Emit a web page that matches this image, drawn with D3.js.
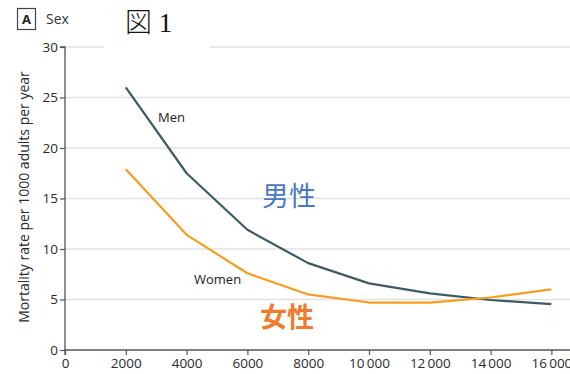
<!DOCTYPE html>
<html>
<head>
<meta charset="utf-8">
<script src="https://cdn.jsdelivr.net/npm/d3@7/dist/d3.min.js"></script>
<style>
  html, body { margin: 0; padding: 0; background: #fff; }
  svg { display: block; }
</style>
</head>
<body>
<svg id="chart" width="570" height="374"></svg>
<script>
// Income (x) and mortality rate per 1000 adults per year
const incomes = [2000, 4000, 6000, 8000, 10000, 12000, 14000, 16000];
const menRates = [26.0, 17.5, 11.9, 8.6, 6.6, 5.6, 4.95, 4.55];
const womenRates = [17.9, 11.4, 7.6, 5.5, 4.7, 4.7, 5.2, 6.0];
const xTicks = [0, 2000, 4000, 6000, 8000, 10000, 12000, 14000, 16000];
const yTicks = [0, 5, 10, 15, 20, 25, 30];

const svg = d3.select("#chart");
const W = 570, H = 374;
const plotLeft = 65, plotTop = 47, plotBottom = 350;

const x = d3.scaleLinear().domain([0, 16000]).range([plotLeft, plotLeft + 16 * 30.4]);
const y = d3.scaleLinear().domain([0, 30]).range([plotBottom, plotTop]);

const tickFont = "'Open Sans', sans-serif";
const axisColor = "#555";

// horizontal gridlines
svg.append("g").selectAll("line")
  .data(yTicks.filter(d => d > 0))
  .join("line")
  .attr("x1", plotLeft).attr("x2", W)
  .attr("y1", d => y(d)).attr("y2", d => y(d))
  .attr("stroke", "#e2e2e2").attr("stroke-width", 1.5);

// y axis
const yAxis = svg.append("g")
  .attr("transform", `translate(${plotLeft},0)`)
  .call(d3.axisLeft(y).tickValues(yTicks).tickSize(5).tickPadding(2));
// x axis
const fmt = d => d >= 10000 ? String(d).replace(/(\d{2})(\d{3})$/, "$1\u2009$2") : String(d);
const xAxis = svg.append("g")
  .attr("transform", `translate(0,${plotBottom})`)
  .call(d3.axisBottom(x).tickValues(xTicks).tickSize(5).tickPadding(3).tickFormat(fmt));

[yAxis, xAxis].forEach(g => {
  g.select(".domain").attr("stroke", axisColor).attr("stroke-width", 1.3);
  g.selectAll(".tick line").attr("stroke", axisColor).attr("stroke-width", 1.2);
  g.selectAll(".tick text")
    .attr("fill", "#2a2a2a")
    .style("font-family", tickFont)
    .style("font-size", "13.5px");
});
// extend x axis line to the right edge
xAxis.select(".domain").attr("d", `M${plotLeft},5V0H${W}`);
yAxis.select(".domain").attr("d", `M-5,${y(30)}H0V${plotBottom}`);

// lines
const line = d3.line().x(d => x(d[0])).y(d => y(d[1]));
svg.append("path")
  .datum(incomes.map((v, i) => [v, menRates[i]]))
  .attr("d", line).attr("fill", "none")
  .attr("stroke", "#3e5b63").attr("stroke-width", 2.2)
  .attr("stroke-linejoin", "round");
svg.append("path")
  .datum(incomes.map((v, i) => [v, womenRates[i]]))
  .attr("d", line).attr("fill", "none")
  .attr("stroke", "#f59d1c").attr("stroke-width", 2.2)
  .attr("stroke-linejoin", "round");

// series labels
svg.append("text").attr("x", 158).attr("y", 122).text("Men")
  .attr("fill", "#222").style("font-family", tickFont).style("font-size", "13px");
svg.append("text").attr("x", 194).attr("y", 284).text("Women")
  .attr("fill", "#222").style("font-family", tickFont).style("font-size", "13px");

// y axis title
svg.append("text")
  .attr("transform", `translate(29,197) rotate(-90)`)
  .attr("text-anchor", "middle")
  .attr("fill", "#2a2a2a")
  .style("font-family", tickFont).style("font-size", "14px")
  .text("Mortality rate per 1000 adults per year");

// panel header
svg.append("rect").attr("x", 17.5).attr("y", 8.5).attr("width", 18).attr("height", 21)
  .attr("fill", "none").attr("stroke", "#444").attr("stroke-width", 1.2);
svg.append("text").attr("x", 26.5).attr("y", 24).attr("text-anchor", "middle").text("A")
  .attr("fill", "#222").style("font-family", tickFont).style("font-weight", "bold").style("font-size", "13px");
svg.append("text").attr("x", 46).attr("y", 24).text("Sex")
  .attr("fill", "#333").style("font-family", tickFont).style("font-size", "14px");

// figure caption with white backing
svg.append("rect").attr("x", 104).attr("y", 0).attr("width", 106).attr("height", 56).attr("fill", "#fff");
const cap = svg.append("text").attr("x", 125).attr("y", 32).attr("fill", "#111").style("font-size", "27px");
cap.append("tspan").style("font-family", "'Noto Sans CJK JP'").style("font-weight", "300").text("図");
cap.append("tspan").style("font-family", "'Liberation Serif', serif").text(" 1");

// Japanese annotations
svg.append("text").attr("x", 262).attr("y", 206).text("男性")
  .attr("fill", "#4a78c4")
  .style("font-family", "'Noto Sans CJK JP'").style("font-weight", "400").style("font-size", "27px");
svg.append("text").attr("x", 260).attr("y", 327).text("女性")
  .attr("fill", "#ef7b2e")
  .style("font-family", "'Noto Sans CJK JP'").style("font-weight", "bold").style("font-size", "27px");
</script>
</body>
</html>
